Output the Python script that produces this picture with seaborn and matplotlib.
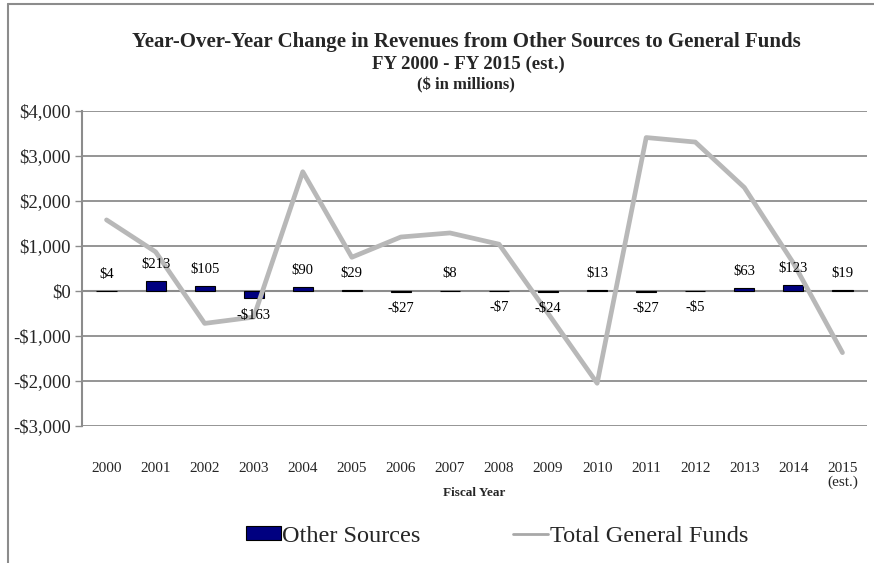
import numpy as np
import pandas as pd
import matplotlib
matplotlib.use("Agg")
import matplotlib.pyplot as plt
from matplotlib.lines import Line2D
from matplotlib.patches import Patch
import seaborn as sns

# Fiscal years shown on the category axis
years = ["2000", "2001", "2002", "2003", "2004", "2005", "2006", "2007",
         "2008", "2009", "2010", "2011", "2012", "2013", "2014", "2015"]
year_labels = years[:-1] + ["2015\n(est.)"]

# Year-over-year change, $ in millions
other_sources = [4, 213, 105, -163, 90, 29, -27, 8, -7, -24, 13, -27, -5, 63, 123, 19]
total_general_funds = [1580, 870, -720, -580, 2650, 750, 1200, 1290, 1040, -500,
                       -2050, 3410, 3310, 2300, 620, -1370]

y_ticks = [-3000, -2000, -1000, 0, 1000, 2000, 3000, 4000]

df = pd.DataFrame({
    "year": years,
    "pos": np.arange(len(years)),
    "other": other_sources,
    "total": total_general_funds,
})

sns.set_theme(style="white")
plt.rcParams["font.family"] = ["Liberation Serif", "DejaVu Serif"]

W, H = 874, 563
fig = plt.figure(figsize=(W / 100, H / 100), dpi=100)
ax = fig.add_axes([82 / W, 1 - 426 / H, (867 - 82) / W, (426 - 111) / H])

navy = "#000080"
grid_c = "#8c8c8c"

# horizontal gridlines behind the marks
for t in y_ticks:
    if t != 0:
        ax.axhline(t, color=grid_c, lw=1.3, zorder=0)

sns.barplot(data=df, x="year", y="other", order=years, color=navy,
            width=0.41, edgecolor="black", linewidth=0.8, saturation=1,
            ax=ax, zorder=2)
sns.lineplot(x=df["pos"], y=df["total"], color="#b8b8b8", lw=3.4,
             ax=ax, zorder=3)

# value labels for Other Sources
for i, v in enumerate(other_sources):
    label = f"${v:,}" if v >= 0 else f"-${abs(v):,}"
    off = 12 if v >= 0 else -12
    ax.annotate(label, xy=(i, v), xytext=(0, off), textcoords="offset points",
                ha="center", va="center", fontsize=10.5, color="black", zorder=4)

ax.set_xlim(-0.5, len(years) - 0.5)
ax.set_ylim(-3000, 4000)
ax.set_yticks(y_ticks)
ax.set_yticklabels([f"${t:,}" if t >= 0 else f"-${abs(t):,}" for t in y_ticks],
                   fontsize=13.5)
ax.set_xlabel("")
ax.set_ylabel("")

# category axis crosses at zero; labels sit below the plot area
ax.spines["bottom"].set_position(("data", 0))
for s in ["top", "right"]:
    ax.spines[s].set_visible(False)
ax.spines["bottom"].set_color(grid_c)
ax.spines["bottom"].set_linewidth(1.5)
ax.spines["left"].set_color(grid_c)
ax.spines["left"].set_linewidth(1.5)
ax.spines["bottom"].set_zorder(1)

ax.set_xticks(df["pos"], year_labels, fontsize=11, linespacing=1.05)
ax.set_xticks(np.arange(len(years) + 1) - 0.5, minor=True)
ax.tick_params(axis="x", which="major", length=0, pad=123)
ax.tick_params(axis="x", which="minor", length=4, width=1, color=grid_c,
               direction="out")
ax.tick_params(axis="y", which="major", length=5, width=1, color=grid_c,
               direction="out", left=True, pad=3)
for lbl in ax.get_xticklabels():
    lbl.set_verticalalignment("top")

# titles
fig.text(466 / W, 1 - 42 / H,
         "Year-Over-Year Change in Revenues from Other Sources to General Funds",
         ha="center", va="center", fontsize=15, fontweight="bold")
fig.text(468 / W, 1 - 64 / H, "FY 2000 - FY 2015 (est.)",
         ha="center", va="center", fontsize=13.5, fontweight="bold")
fig.text(466 / W, 1 - 85 / H, "($ in millions)",
         ha="center", va="center", fontsize=12, fontweight="bold")
fig.text(474 / W, 1 - 493 / H, "Fiscal Year",
         ha="center", va="center", fontsize=9.5, fontweight="bold")

# legend
handles = [Patch(facecolor=navy, edgecolor="black", linewidth=0.8),
           Line2D([0], [0], color="#a8a8a8", lw=2)]
fig.legend(handles, ["Other Sources", "Total General Funds"],
           loc="center", bbox_to_anchor=(497 / W, 1 - 536 / H), ncol=2,
           frameon=False, fontsize=17.5, handlelength=1.45, handleheight=0.55,
           handletextpad=0.05, columnspacing=3.8)

# chart frame
fig.add_artist(Line2D([8 / W, 1.0], [1 - 4 / H, 1 - 4 / H], color=grid_c,
                      lw=1.5, transform=fig.transFigure))
fig.add_artist(Line2D([8 / W, 8 / W], [0.0, 1 - 4 / H], color=grid_c,
                      lw=1.5, transform=fig.transFigure))

fig.savefig("out.png", dpi=100, facecolor="white")
